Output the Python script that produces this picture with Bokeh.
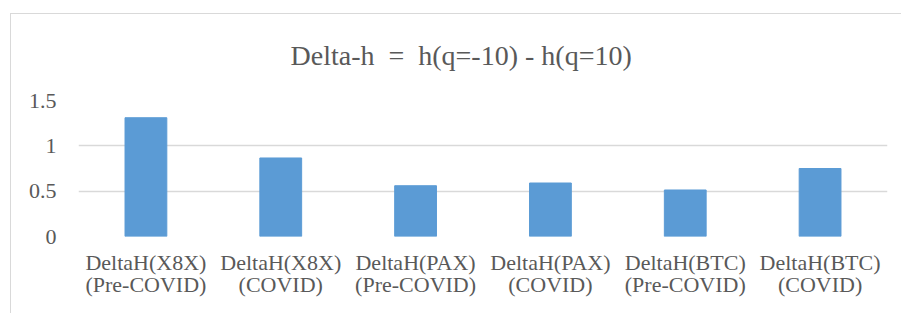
from bokeh.plotting import figure
from bokeh.models import FixedTicker, Range1d, FactorRange, ColumnDataSource
from bokeh.embed import file_html
from bokeh.resources import INLINE

categories = [
    "DeltaH(X8X)\n(Pre-COVID)",
    "DeltaH(X8X)\n(COVID)",
    "DeltaH(PAX)\n(Pre-COVID)",
    "DeltaH(PAX)\n(COVID)",
    "DeltaH(BTC)\n(Pre-COVID)",
    "DeltaH(BTC)\n(COVID)",
]
values = [1.31, 0.866, 0.56, 0.59, 0.513, 0.75]
y_ticks = [0, 0.5, 1, 1.5]
y_tick_labels = ["0", "0.5", "1", "1.5"]
title_text = "Delta-h \u00a0=\u00a0 h(q=-10) - h(q=10)"

FONT = "Liberation Serif"
TXT = "#595959"
GRID = "#d9d9d9"

src = ColumnDataSource(data=dict(cat=categories, val=values))

frame_css = {
    "background-color": "white",
    "background-image": "linear-gradient(#d9d9d9, #d9d9d9), linear-gradient(#d9d9d9, #d9d9d9)",
    "background-size": "1px 100%, 100% 1px",
    "background-position": "10px 13px, 10px 13px",
    "background-repeat": "no-repeat",
}

p = figure(
    width=901, height=313,
    x_range=FactorRange(factors=categories, range_padding=0),
    y_range=Range1d(0, 1.5),
    output_backend="svg", toolbar_location=None,
    min_border_left=78, min_border_right=14, min_border_top=100, min_border_bottom=77,
    styles=frame_css,
)
p.border_fill_color = None
p.background_fill_color = None

p.vbar(x="cat", top="val", width=0.31, source=src, fill_color="#5B9BD5", line_color="#5B9BD5")

p.title.text = title_text
p.title.text_font = FONT
p.title.text_font_size = "28px"
p.title.text_font_style = "normal"
p.title.text_color = TXT
p.title.align = "left"
p.title.offset = 212
p.title.standoff = 60

p.outline_line_color = None
p.xgrid.grid_line_color = None
p.ygrid.grid_line_color = GRID
p.ygrid.grid_line_width = 1.5

p.yaxis.ticker = FixedTicker(ticks=y_ticks)
p.yaxis.major_label_overrides = dict(zip(y_ticks, y_tick_labels))
for ax in (p.xaxis, p.yaxis):
    ax.axis_line_color = None
    ax.major_tick_line_color = None
    ax.minor_tick_line_color = None
    ax.major_label_text_font = FONT
    ax.major_label_text_color = TXT
p.yaxis.major_label_text_font_size = "22px"
p.yaxis.major_label_standoff = 16
p.xaxis.major_label_text_font_size = "22px"
p.xaxis.major_label_text_line_height = 0.9
p.xaxis.major_label_standoff = 7

open("out.html", "w").write(file_html(p, INLINE))
